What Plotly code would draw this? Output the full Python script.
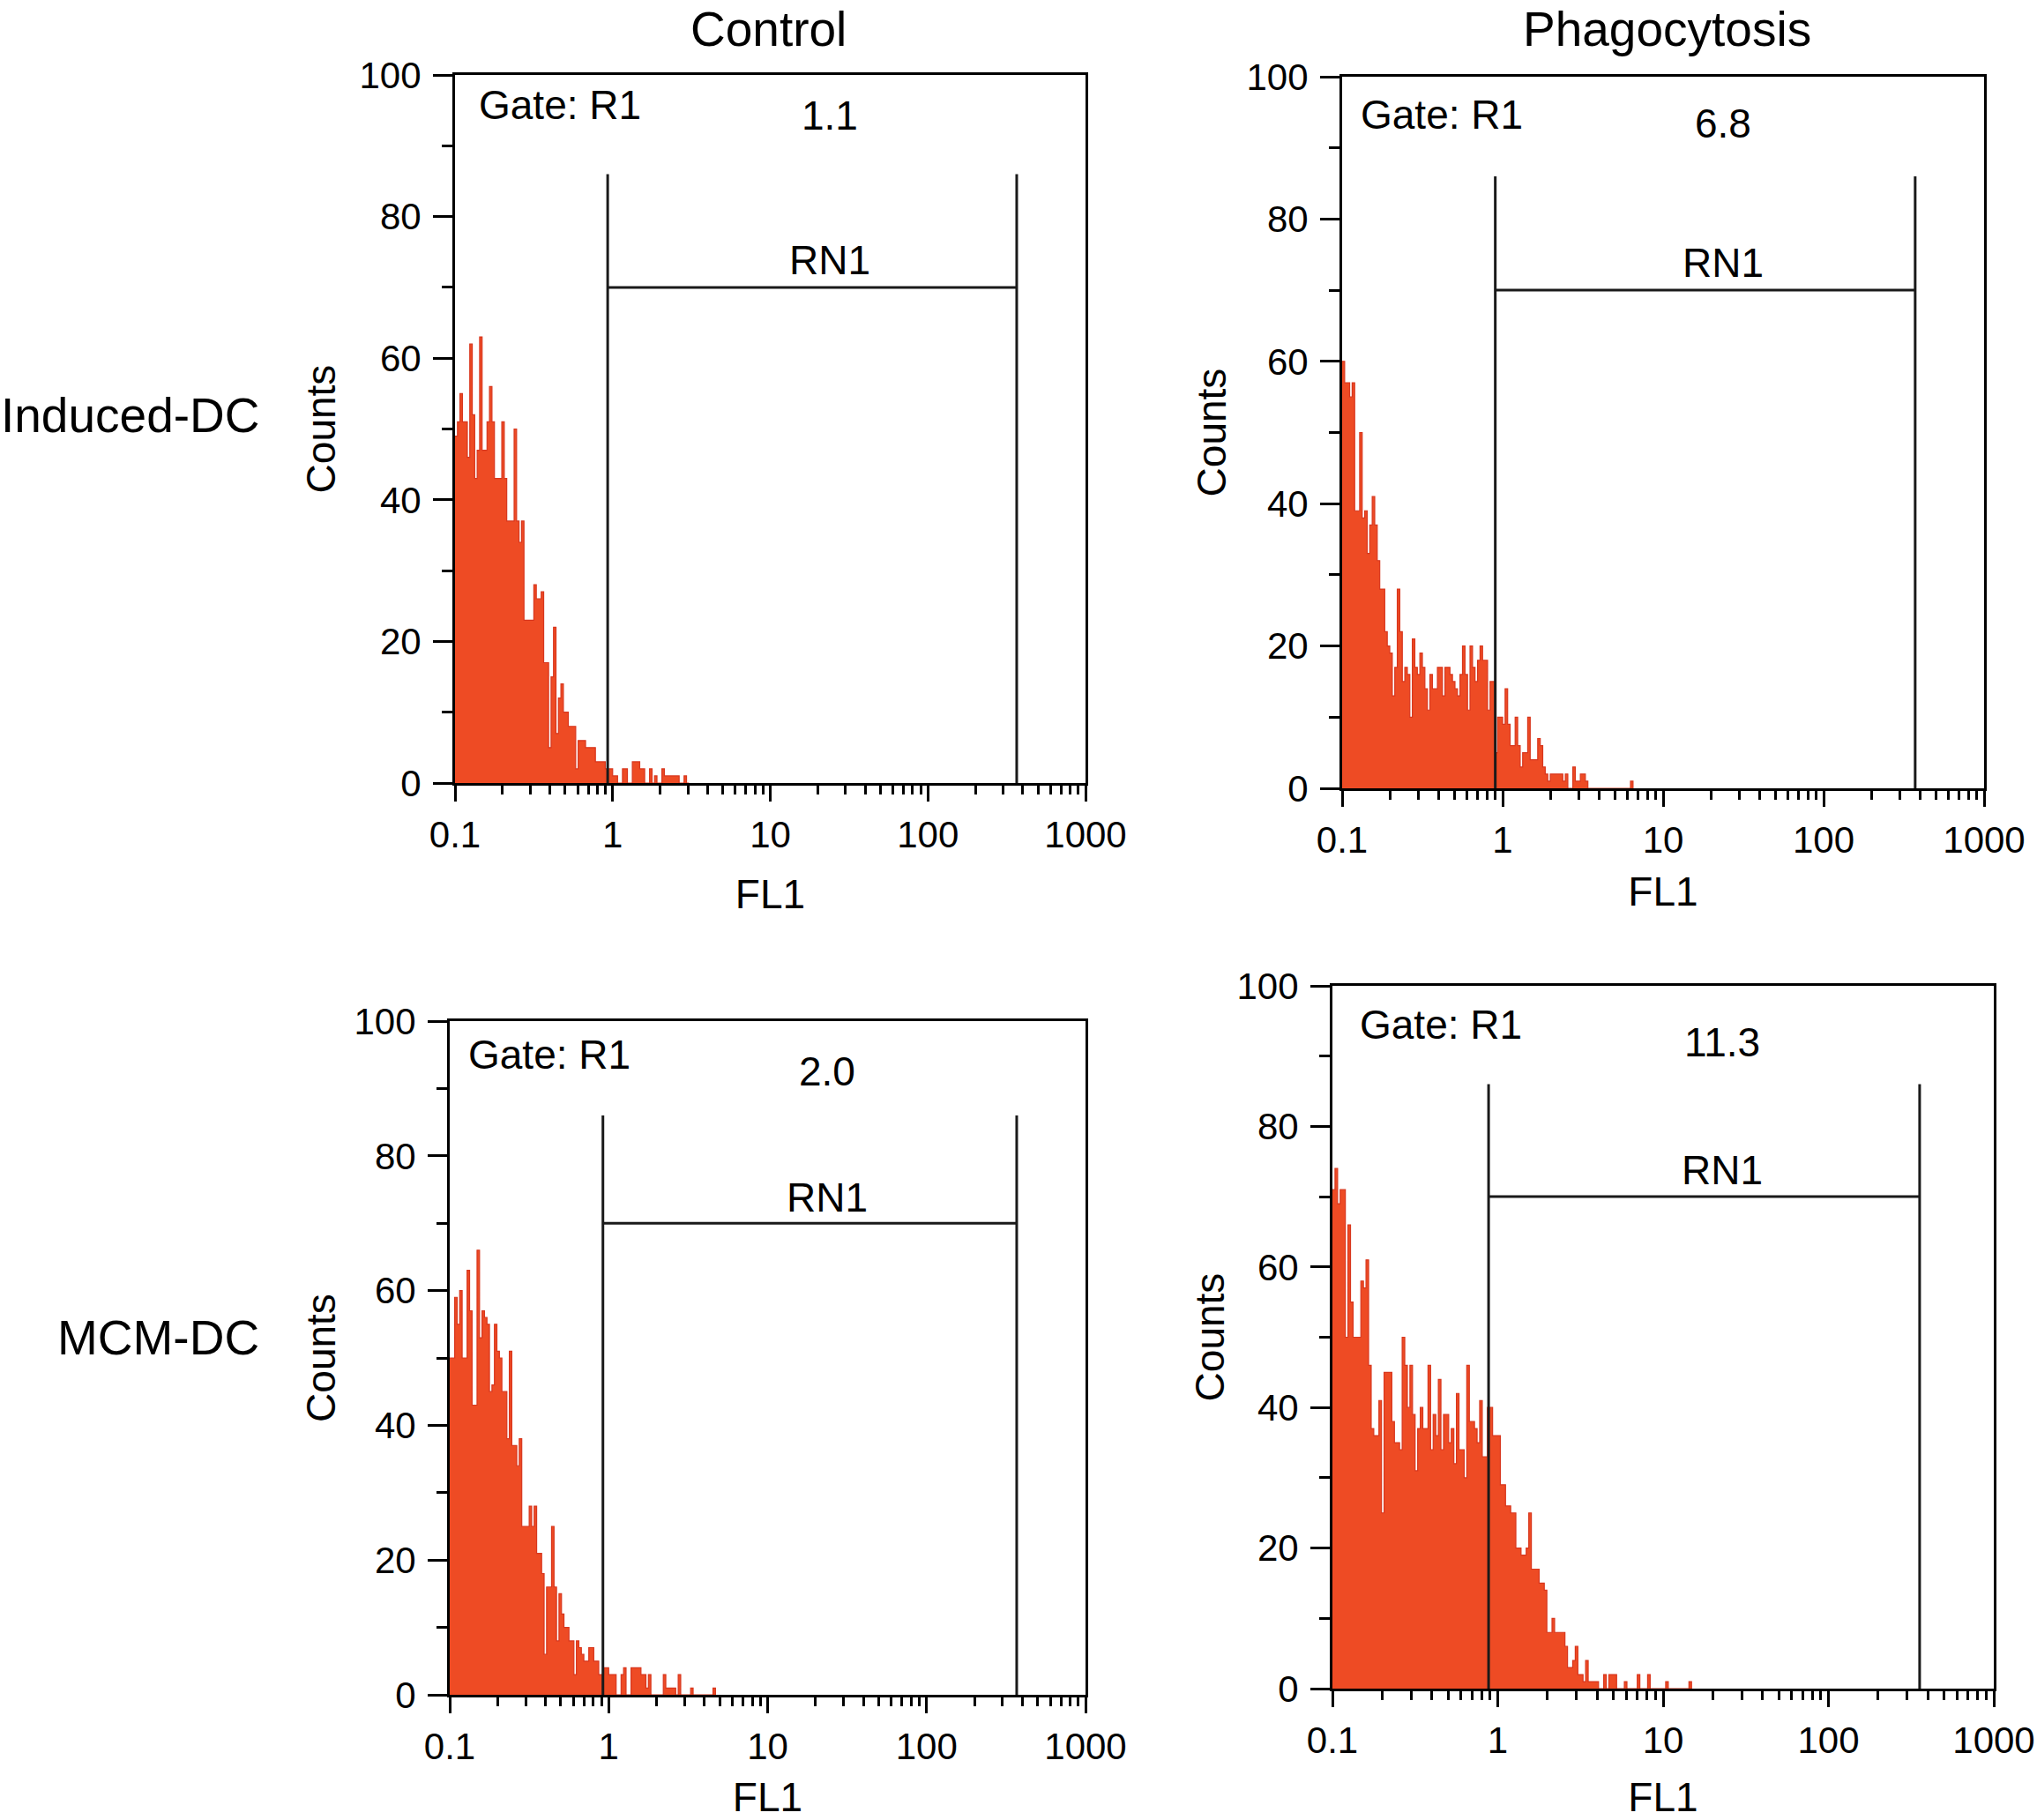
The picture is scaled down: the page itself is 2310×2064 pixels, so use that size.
import numpy as np
import plotly.graph_objects as go

# ---------------- data (counts per channel, 64 channels per decade, starting at FL1 = 0.1) ----------------
BINS_PER_DECADE = 64
FL1_START = 0.1

induced_control = [
    49, 51, 55, 51, 51, 46, 62, 52, 43, 47,
    63, 47, 47, 51, 56, 51, 43, 43, 43, 51,
    43, 37, 37, 37, 50, 37, 34, 37, 23, 23,
    23, 23, 28, 26, 26, 27, 17, 17, 5, 15,
    22, 7, 12, 14, 10, 10, 8, 8, 8, 2,
    6, 6, 6, 5, 5, 5, 5, 3, 3, 3,
    3, 2, 2, 2, 1, 1, 0, 0, 2, 2,
    0, 0, 3, 3, 3, 2, 2, 0, 0, 2,
    0, 1, 0, 0, 2, 1, 1, 1, 1, 1,
    1, 0, 0, 1, 0,
]

induced_phago = [
    60, 57, 57, 55, 57, 39, 39, 50, 38, 39,
    33, 37, 41, 37, 32, 28, 28, 22, 20, 19,
    13, 17, 28, 22, 15, 17, 16, 10, 21, 17,
    16, 19, 17, 14, 11, 16, 14, 14, 17, 17,
    13, 17, 17, 16, 15, 14, 13, 16, 20, 16,
    11, 20, 17, 15, 18, 20, 18, 18, 11, 15,
    15, 5, 10, 10, 9, 14, 9, 6, 6, 10,
    6, 3, 5, 5, 10, 4, 4, 4, 7, 6,
    3, 2, 1, 2, 2, 2, 2, 2, 1, 2,
    0, 0, 3, 1, 1, 2, 2, 1, 0, 0,
    0, 0, 0, 0, 0, 0, 0, 0, 0, 0,
    0, 0, 0, 0, 0, 1,
]

mcm_control = [
    50, 50, 59, 55, 60, 50, 50, 63, 57, 43,
    43, 66, 53, 57, 56, 55, 45, 46, 55, 51,
    50, 45, 45, 38, 51, 37, 37, 34, 38, 25,
    25, 25, 28, 25, 28, 21, 21, 18, 6, 16,
    16, 25, 16, 8, 15, 12, 10, 10, 8, 8,
    3, 8, 7, 6, 5, 5, 7, 7, 5, 5,
    3, 3, 4, 4, 3, 3, 3, 0, 0, 3,
    4, 0, 0, 4, 4, 4, 4, 3, 3, 1,
    3, 0, 0, 0, 0, 0, 3, 1, 1, 1,
    1, 0, 3, 0, 0, 0, 0, 1, 0, 0,
    0, 0, 0, 0, 0, 0, 1,
]

mcm_phago = [
    71, 74, 69, 71, 71, 50, 66, 55, 50, 50,
    50, 58, 57, 61, 46, 37, 36, 36, 41, 25,
    45, 45, 45, 38, 35, 35, 34, 50, 46, 40,
    46, 39, 31, 37, 40, 37, 37, 46, 34, 39,
    36, 44, 34, 39, 39, 35, 37, 32, 42, 34,
    34, 30, 46, 38, 38, 37, 35, 41, 33, 33,
    40, 40, 36, 36, 36, 29, 29, 26, 26, 25,
    25, 20, 20, 19, 19, 20, 25, 17, 17, 17,
    15, 15, 14, 8, 8, 10, 8, 8, 8, 8,
    6, 3, 3, 4, 6, 2, 2, 1, 4, 1,
    1, 1, 1, 0, 0, 2, 0, 2, 2, 2,
    0, 0, 0, 1, 0, 0, 0, 0, 2, 0,
    0, 0, 2, 0, 0, 0, 0, 0, 0, 1,
    0, 0, 0, 0, 0, 0, 0, 0, 1,
]

row_labels = ["Induced-DC", "MCM-DC"]
col_labels = ["Control", "Phagocytosis"]
percent_labels = ["1.1", "6.8", "2.0", "11.3"]
gate_label = "Gate: R1"
marker_label = "RN1"
gate_left = [0.93, 0.90, 0.92, 0.88]
gate_right = [366, 372, 369, 356]
gate_top = 86
marker_level = 70
x_tick_vals = [0.1, 1, 10, 100, 1000]
x_tick_text = ["0.1", "1", "10", "100", "1000"]
y_tick_vals = [0, 20, 40, 60, 80, 100]
x_title = "FL1"
y_title = "Counts"

series = [induced_control, induced_phago, mcm_control, mcm_phago]

# ---------------- layout geometry ----------------
W, H = 2310, 2064
# pixel boxes (left, right, top, bottom)
boxes = [
    (516, 1231, 85, 888),
    (1522, 2250, 87, 894),
    (510, 1231, 1158, 1922),
    (1511, 2261, 1118, 1915),
]
gate_text_x = [0.035, 0.026, 0.026, 0.039]
gate_text_y = [95.8, 94.7, 95.0, 94.5]
pct_text_y = [94.3, 93.4, 92.5, 92.0]
y_title_standoff = [13, 9, 7, 0]
x_title_standoff = [29, 20, 19, 26]

FONT = "Liberation Sans, Arial, Helvetica, sans-serif"
FILL = "#EE4B24"
EDGE = "#D8361D"

minor_x = [m * 10.0 ** d for d in range(-1, 3) for m in range(2, 10)]

fig = go.Figure()
layout = {}
annotations = []

for k, counts in enumerate(series):
    n = len(counts)
    edges = FL1_START * 10.0 ** (np.arange(n + 1) / BINS_PER_DECADE)
    ys = list(counts) + [0]
    ax = "" if k == 0 else str(k + 1)
    xref, yref = "x" + ax, "y" + ax
    fig.add_trace(go.Scatter(
        x=edges, y=ys, mode="lines", line=dict(shape="hv", color=EDGE, width=1.2),
        fill="tozeroy", fillcolor=FILL, xaxis=xref, yaxis=yref,
        showlegend=False, hoverinfo="skip",
    ))
    gl, gr = gate_left[k], gate_right[k]
    fig.add_trace(go.Scatter(
        x=[gl, gl, None, gr, gr, None, gl, gr],
        y=[0, gate_top, None, 0, gate_top, None, marker_level, marker_level],
        mode="lines", line=dict(color="#1a1a1a", width=3),
        xaxis=xref, yaxis=yref, showlegend=False, hoverinfo="skip",
    ))

    l, r, t, b = boxes[k]
    layout["xaxis" + ax] = dict(
        domain=[l / W, r / W], anchor=yref, type="log", range=[-1, 3],
        automargin=False,
        tickmode="array", tickvals=x_tick_vals, ticktext=x_tick_text,
        ticks="outside", ticklen=18, tickwidth=3, tickcolor="black",
        ticklabelstandoff=2,
        minor=dict(tickmode="array", tickvals=minor_x, ticks="outside", ticklen=10,
                   tickwidth=2.5, tickcolor="black", showgrid=False),
        showline=True, linewidth=3, linecolor="black", mirror=True,
        showgrid=False, zeroline=False,
        tickfont=dict(family=FONT, size=42, color="black"),
        title=dict(text=x_title, font=dict(family=FONT, size=46, color="black"),
                   standoff=x_title_standoff[k]),
    )
    layout["yaxis" + ax] = dict(
        domain=[1 - b / H, 1 - t / H], anchor=xref, range=[0, 100],
        automargin=False,
        tickmode="array", tickvals=y_tick_vals,
        ticks="outside", ticklen=22, tickwidth=3, tickcolor="black",
        ticklabelstandoff=5,
        minor=dict(dtick=10, ticks="outside", ticklen=12, tickwidth=2.5,
                   tickcolor="black", showgrid=False),
        showline=True, linewidth=3, linecolor="black", mirror=True,
        showgrid=False, zeroline=False,
        tickfont=dict(family=FONT, size=42, color="black"),
        title=dict(text=y_title, font=dict(family=FONT, size=46, color="black"),
                   standoff=y_title_standoff[k]),
    )

    mid = (np.log10(gl) + np.log10(gr)) / 2 + 0.11
    annotations.append(dict(text=gate_label, xref=xref + " domain", yref=yref, x=gate_text_x[k],
                            y=gate_text_y[k], xanchor="left", yanchor="middle", showarrow=False,
                            font=dict(family=FONT, size=46, color="black")))
    annotations.append(dict(text=percent_labels[k], xref=xref, yref=yref, x=mid,
                            y=pct_text_y[k], xanchor="center", yanchor="middle", showarrow=False,
                            font=dict(family=FONT, size=46, color="black")))
    annotations.append(dict(text=marker_label, xref=xref, yref=yref, x=mid,
                            y=73.8, xanchor="center", yanchor="middle", showarrow=False,
                            font=dict(family=FONT, size=46, color="black")))

# column headings
annotations.append(dict(text=col_labels[0], xref="paper", yref="paper", x=871 / W, y=1,
                        xanchor="center", yanchor="top", showarrow=False,
                        font=dict(family=FONT, size=55, color="black")))
annotations.append(dict(text=col_labels[1], xref="paper", yref="paper", x=1890 / W, y=1,
                        xanchor="center", yanchor="top", showarrow=False,
                        font=dict(family=FONT, size=55, color="black")))
# row labels
annotations.append(dict(text=row_labels[0], xref="paper", yref="paper", x=296 / W, y=1 - 471 / H,
                        xanchor="right", yanchor="middle", showarrow=False,
                        font=dict(family=FONT, size=55, color="black")))
annotations.append(dict(text=row_labels[1], xref="paper", yref="paper", x=296 / W, y=1 - 1517 / H,
                        xanchor="right", yanchor="middle", showarrow=False,
                        font=dict(family=FONT, size=55, color="black")))

fig.update_layout(
    width=W, height=H, margin=dict(l=0, r=0, t=0, b=0, autoexpand=False),
    paper_bgcolor="white", plot_bgcolor="white",
    annotations=annotations, **layout,
)

fig.write_html("out.html", config={"displayModeBar": False},
               post_script="document.body.style.margin='0';")
